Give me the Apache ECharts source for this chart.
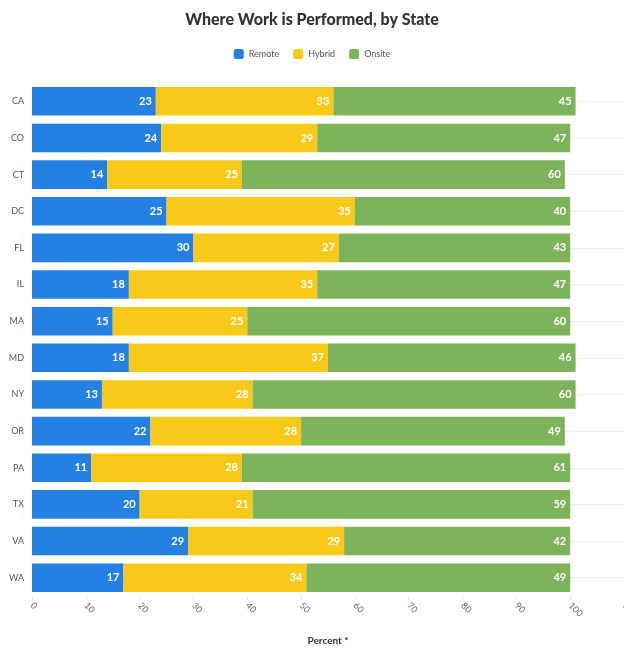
<!DOCTYPE html>
<html><head><meta charset="utf-8">
<script src="https://cdn.jsdelivr.net/npm/echarts@6/dist/echarts.min.js"></script>
<style>html,body{margin:0;padding:0;background:#fff;overflow:hidden}#c{width:624px;height:649px}</style>
</head><body><div id="c"></div>
<script>
const states = ['CA','CO','CT','DC','FL','IL','MA','MD','NY','OR','PA','TX','VA','WA'];
const remote = [23,24,14,25,30,18,15,18,13,22,11,20,29,17];
const hybrid = [33,29,25,35,27,35,25,37,28,28,28,21,29,34];
const onsite = [45,47,60,40,43,47,60,46,60,49,61,59,42,49];
const xTicks = [0,10,20,30,40,50,60,70,80,90,100,110];

const chart = echarts.init(document.getElementById('c'));
const F = 'Lato, "Noto Sans", sans-serif';
function mk(name, data, color){
  return {name, type:'bar', stack:'t', data, barCategoryGap:'22%', z:10,
    itemStyle:{color},
    label:{show:true, position:'insideRight', color:'#fff', fontWeight:'bold', fontSize:11, fontFamily:F, distance:4}};
}
chart.setOption({
  animation:false,
  title:{text:'Where Work is Performed, by State', left:'center', top:7,
    textStyle:{fontSize:16, fontWeight:900, color:'#333', fontFamily:F}},
  legend:{top:44, left:'center', itemWidth:10, itemHeight:10, itemGap:14,
    icon:'roundRect', data:['Remote','Hybrid','Onsite'], textStyle:{fontSize:9, color:'#555', fontFamily:F}},
  grid:{left:32, right:0, top:83, bottom:53, containLabel:false, outerBoundsMode:'none'},
  xAxis:{type:'value', min:0, max:110, interval:10, name:'Percent *', nameLocation:'middle', nameGap:40,
    nameTextStyle:{fontSize:10, fontWeight:'bold', color:'#333', fontFamily:F},
    axisLabel:{rotate:-45, fontSize:9, color:'#666', fontFamily:F, margin:8,
      formatter:v=>xTicks.includes(v)?String(v):''},
    axisLine:{show:false}, axisTick:{show:true, length:4, lineStyle:{color:'#e4e4e4'}},
    splitLine:{show:false}},
  yAxis:{type:'category', data:states, inverse:true,
    axisLabel:{fontSize:9, color:'#555', fontFamily:F, margin:8},
    axisLine:{show:false}, axisTick:{show:false}},
  series:[
    {name:'grid', type:'line', data:[], z:1, silent:true,
      markLine:{silent:true, z:1, symbol:'none', label:{show:false},
        lineStyle:{color:'#eeeeee', type:'solid', width:1},
        data:states.map(s=>({yAxis:s}))}},
    mk('Remote',remote,'#2580e3'), mk('Hybrid',hybrid,'#f7c919'), mk('Onsite',onsite,'#7db35a')]
});
</script></body></html>
